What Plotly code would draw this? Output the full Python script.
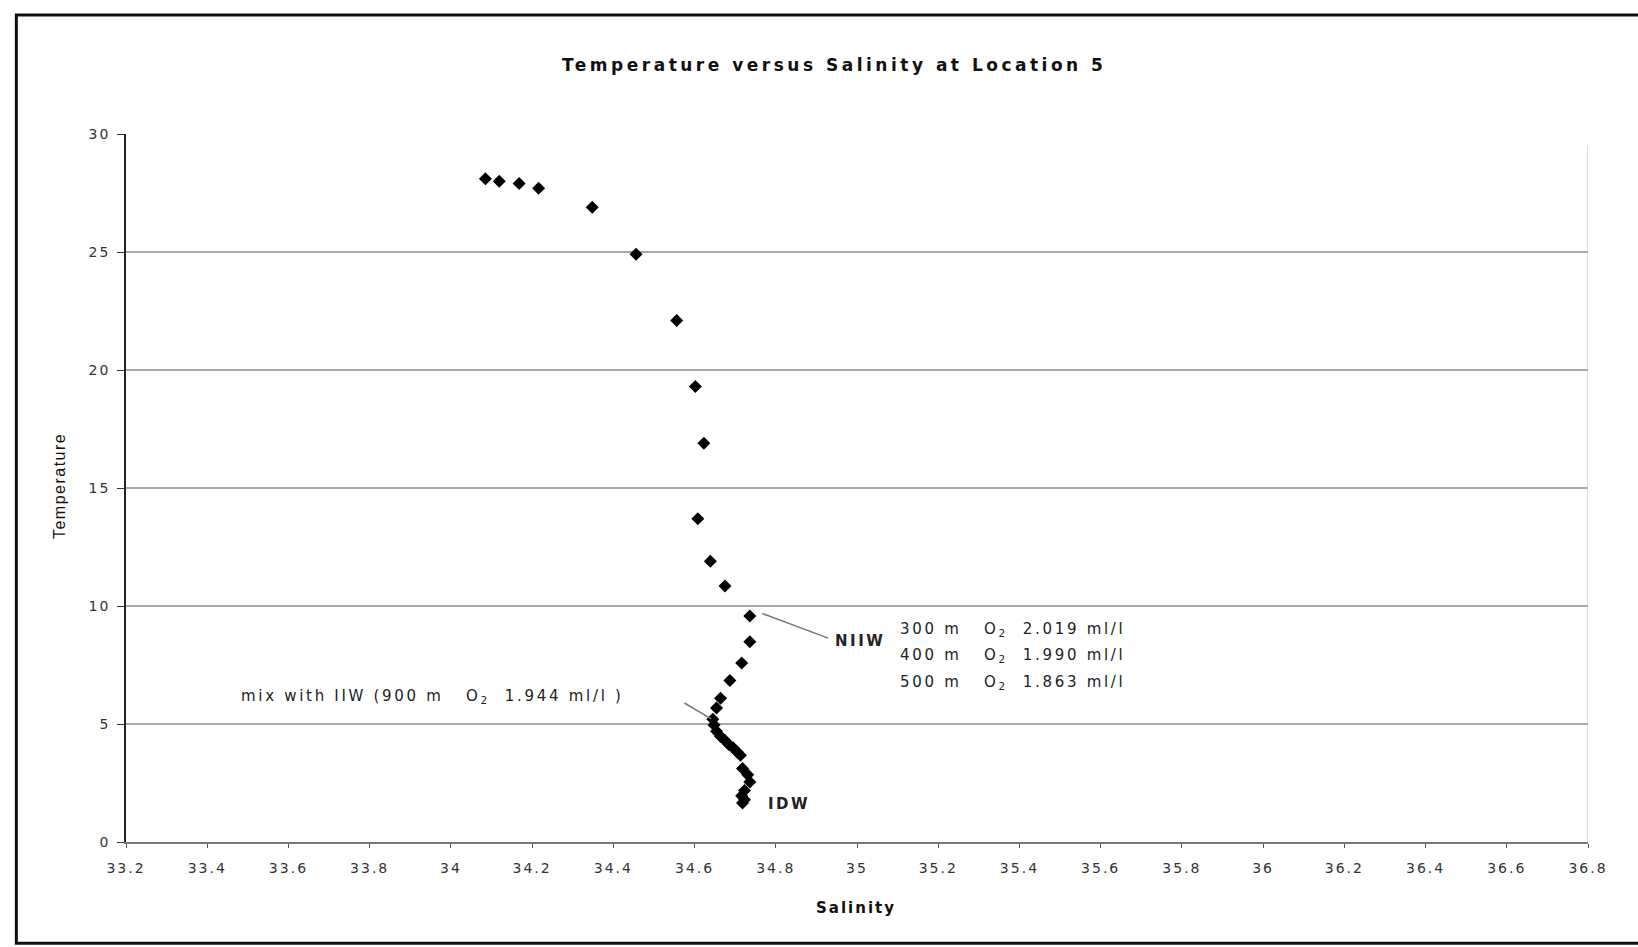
import plotly.graph_objects as go

# Salinity / temperature readings (estimated from the chart)
salinity = [34.085, 34.119, 34.168, 34.216, 34.348, 34.456, 34.556, 34.602, 34.623,
            34.608, 34.639, 34.675, 34.736, 34.736, 34.716, 34.687, 34.664, 34.654,
            34.645, 34.648, 34.654, 34.664, 34.675, 34.685, 34.695, 34.705, 34.713,
            34.718, 34.731, 34.736, 34.723, 34.716, 34.723, 34.718]
temperature = [28.1, 28.0, 27.9, 27.7, 26.9, 24.9, 22.1, 19.3, 16.9,
               13.7, 11.9, 10.85, 9.58, 8.48, 7.59, 6.84, 6.09, 5.68,
               5.2, 4.96, 4.69, 4.47, 4.3, 4.12, 3.99, 3.81, 3.68,
               3.11, 2.85, 2.54, 2.18, 1.96, 1.79, 1.65]

x_tickvals = [33.2, 33.4, 33.6, 33.8, 34.0, 34.2, 34.4, 34.6, 34.8, 35.0,
              35.2, 35.4, 35.6, 35.8, 36.0, 36.2, 36.4, 36.6, 36.8]
x_ticktext = ["33.2", "33.4", "33.6", "33.8", "34", "34.2", "34.4", "34.6", "34.8", "35",
              "35.2", "35.4", "35.6", "35.8", "36", "36.2", "36.4", "36.6", "36.8"]
y_tickvals = [0, 5, 10, 15, 20, 25, 30]
y_ticktext = ["0", "5", "10", "15", "20", "25", "30"]

niiw_lines = ["300 m   O<sub>2</sub>  2.019 ml/l",
              "400 m   O<sub>2</sub>  1.990 ml/l",
              "500 m   O<sub>2</sub>  1.863 ml/l"]
niiw_line_temps = [9.0, 7.89, 6.74]

FONT = "DejaVu Sans, Arial, sans-serif"
TXT = "#222222"


def spaced(s, px):
    return '<span style="letter-spacing:%spx">%s</span>' % (px, s)


fig = go.Figure()
fig.add_trace(go.Scatter(
    x=salinity, y=temperature, mode="markers",
    marker=dict(symbol="diamond", size=10, color="black"),
    showlegend=False, hoverinfo="x+y"))

annotations = []
for txt, t in zip(niiw_lines, niiw_line_temps):
    annotations.append(dict(x=35.102, y=t, xref="x", yref="y", text=spaced(txt, 2.7),
                            showarrow=False, xanchor="left", yanchor="middle",
                            font=dict(family=FONT, size=15, color=TXT)))
annotations.append(dict(x=34.942, y=8.53, xref="x", yref="y", text=spaced("<b>NIIW</b>", 2.5),
                        showarrow=False, xanchor="left", yanchor="middle",
                        font=dict(family=FONT, size=15, color=TXT)))
annotations.append(dict(x=33.478, y=6.15, xref="x", yref="y",
                        text=spaced("mix with IIW (900 m   O<sub>2</sub>  1.944 ml/l )", 2.7),
                        showarrow=False, xanchor="left", yanchor="middle",
                        font=dict(family=FONT, size=15, color=TXT)))
annotations.append(dict(x=34.775, y=1.63, xref="x", yref="y", text=spaced("<b>IDW</b>", 2.5),
                        showarrow=False, xanchor="left", yanchor="middle",
                        font=dict(family=FONT, size=15, color=TXT)))
annotations.append(dict(x=0.484, y=1.097, xref="paper", yref="paper",
                        text=spaced("<b>Temperature versus Salinity at Location 5</b>", 3.5),
                        showarrow=False, xanchor="center", yanchor="middle",
                        font=dict(family=FONT, size=17, color="#111111")))
annotations.append(dict(x=0.499, y=-0.093, xref="paper", yref="paper",
                        text=spaced("<b>Salinity</b>", 2), showarrow=False,
                        xanchor="center", yanchor="middle",
                        font=dict(family=FONT, size=15, color="#111111")))
annotations.append(dict(x=-0.045, y=0.503, xref="paper", yref="paper",
                        text=spaced("Temperature", 1.5), textangle=-90, showarrow=False,
                        xanchor="center", yanchor="middle",
                        font=dict(family="Liberation Sans Narrow, Arial Narrow, Liberation Sans, sans-serif",
                                  size=16, color="#111111")))

shapes = [
    # leader lines
    dict(type="line", xref="x", yref="y", x0=34.767, y0=9.68, x1=34.929, y1=8.64,
         line=dict(color="#777777", width=1.5)),
    dict(type="line", xref="x", yref="y", x0=34.575, y0=5.89, x1=34.641, y1=5.22,
         line=dict(color="#777777", width=1.5)),
    # faint right border of plot area
    dict(type="line", xref="x", yref="y", x0=36.8, y0=0, x1=36.8, y1=29.5,
         line=dict(color="#bbbbbb", width=1)),
    # outer frame of the scanned chart
    dict(type="rect", xref="paper", yref="paper", x0=-0.075, y0=-0.143, x1=1.04, y1=1.168,
         line=dict(color="#111111", width=3), layer="below"),
]

fig.update_layout(
    width=1638, height=947,
    margin=dict(l=126, r=50, t=134, b=105),
    paper_bgcolor="white", plot_bgcolor="white",
    font=dict(family=FONT, size=13, color=TXT),
    showlegend=False,
    annotations=annotations,
    shapes=shapes,
    xaxis=dict(range=[33.2, 36.8], tickvals=x_tickvals,
               ticktext=[spaced(t, 2) for t in x_ticktext],
               showgrid=False, zeroline=False, showline=True, linecolor="#777777",
               linewidth=2, ticks="outside", ticklen=4, tickcolor="#555555",
               ticklabelstandoff=8,
               tickfont=dict(family=FONT, size=14, color="#333333")),
    yaxis=dict(range=[0, 30], tickvals=y_tickvals,
               ticktext=[spaced(t, 2) for t in y_ticktext],
               showgrid=True, gridcolor="#a8a8a8", gridwidth=2, zeroline=False,
               showline=True, linecolor="#222222", linewidth=1.5,
               ticks="outside", ticklen=7, tickcolor="#333333",
               ticklabelstandoff=4,
               tickfont=dict(family=FONT, size=14, color="#333333")),
)

fig.write_html("out.html")
